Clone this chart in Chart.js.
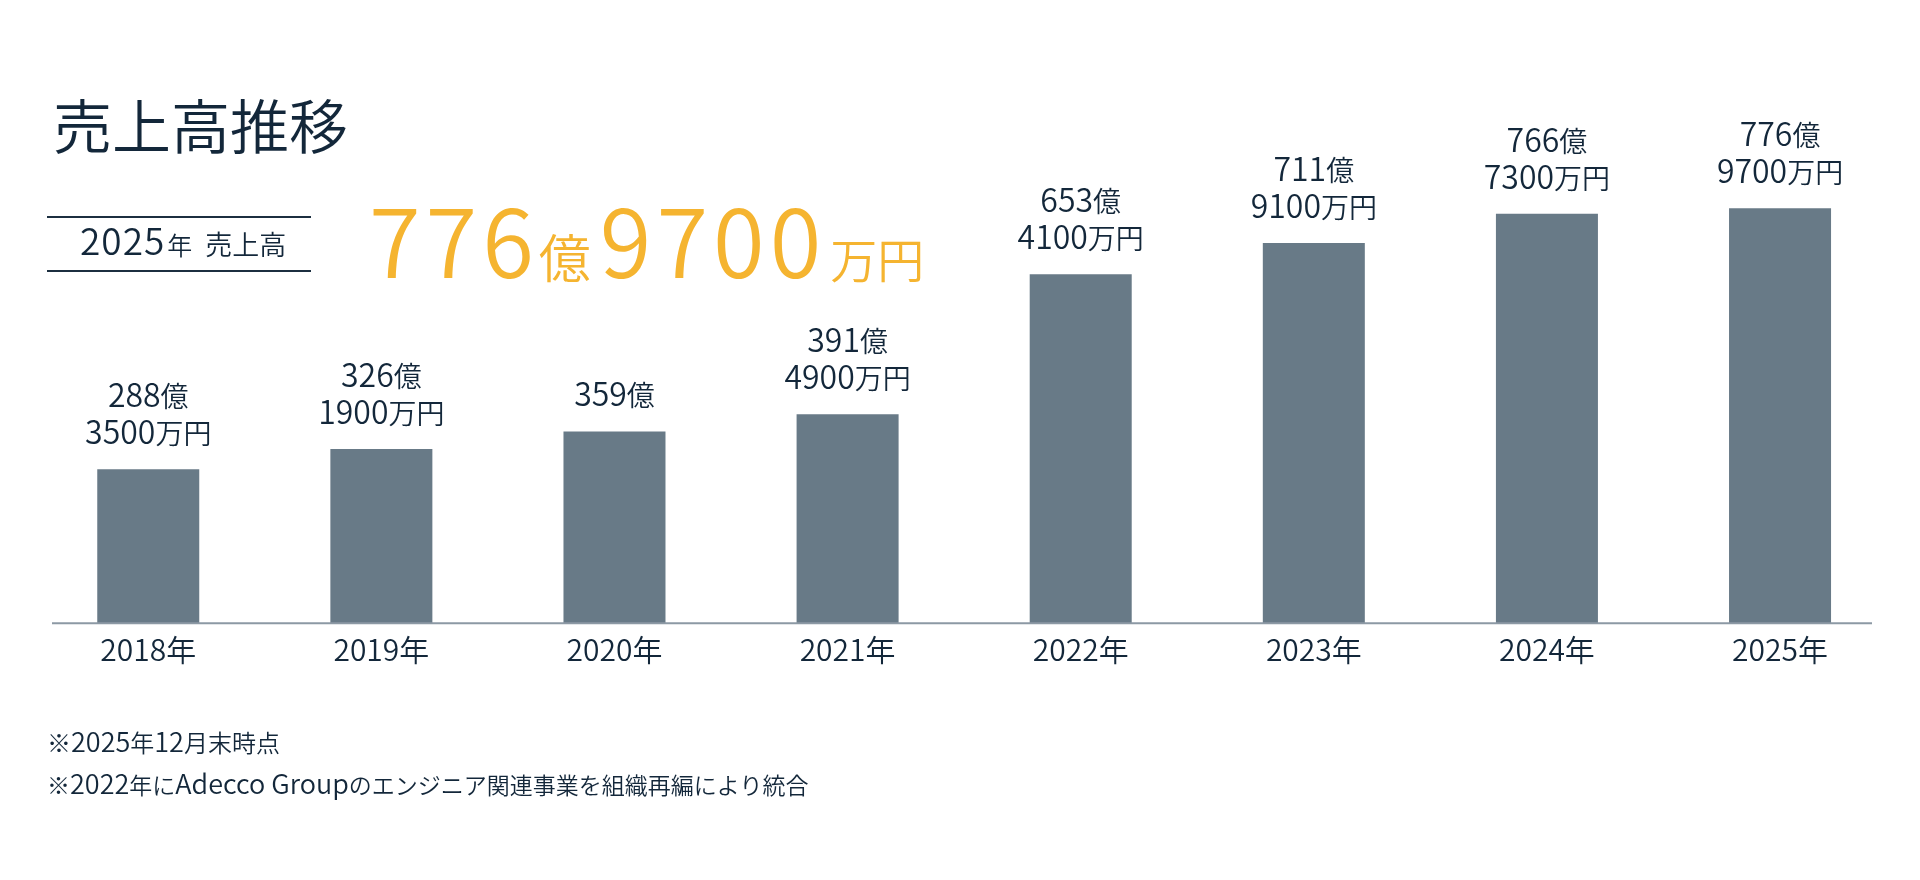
<!DOCTYPE html>
<html lang="ja">
<head>
<meta charset="utf-8">
<script src="https://cdn.jsdelivr.net/npm/chart.js@4.4.1/dist/chart.umd.min.js"></script>
<style>
html,body{margin:0;padding:0;background:#ffffff;}
body{width:1920px;height:880px;position:relative;overflow:hidden;font-family:"Noto Sans CJK JP","Noto Sans",sans-serif;color:#13273a;}
#c{position:absolute;left:0;top:0;width:1920px;height:880px;}
.t{position:absolute;line-height:1;white-space:nowrap;font-weight:350;}
#title{left:53px;top:94px;font-size:59px;}
#box{position:absolute;left:47px;top:216px;width:264px;height:56px;box-sizing:border-box;border-top:2px solid #1c2f40;border-bottom:2px solid #1c2f40;}
#boxtxt{left:80px;top:221px;font-size:37px;letter-spacing:1px;}
#boxtxt span{letter-spacing:0;}
#big{left:369px;top:190px;font-size:94px;letter-spacing:5px;color:#f5b430;}
#big span{letter-spacing:0;}
#note1{left:47px;top:727px;font-size:27px;}
#note2{left:47px;top:769px;font-size:27px;}
.k24{font-size:24px;}
.k23{font-size:23px;}
</style>
</head>
<body>
<canvas id="c" width="1920" height="880"></canvas>
<div class="t" id="title">売上高推移</div>
<div id="box"></div>
<div class="t" id="boxtxt">2025<span style="font-size:25px;margin-left:2px">年</span><span style="font-size:27px;margin-left:13px">売上高</span></div>
<div class="t" id="big">776<span style="font-size:52px;margin-right:9px">億</span>9700<span style="font-size:47px;margin-left:4px">万円</span></div>
<div class="t" id="note1"><span class="k24">※</span>2025<span class="k24">年</span>12<span class="k24">月末時点</span></div>
<div class="t" id="note2"><span class="k23">※</span>2022<span class="k23">年に</span>Adecco Group<span class="k23">のエンジニア関連事業を組織再編により統合</span></div>
<script>
// ---- data ----
const years = ['2018年', '2019年', '2020年', '2021年', '2022年', '2023年', '2024年', '2025年'];
const sales = [288.35, 326.19, 359.00, 391.49, 653.41, 711.91, 766.73, 776.97]; // 億円
const labelOku = ['288億', '326億', '359億', '391億', '653億', '711億', '766億', '776億'];
const labelMan = ['3500万円', '1900万円', '', '4900万円', '4100万円', '9100万円', '7300万円', '9700万円'];

const TEXT = '#13273a';
const FONT = '"Noto Sans CJK JP", "Noto Sans", sans-serif';
const W = 350;

function drawMixed(ctx, str, cx, baseline, latSize, cjkSize) {
  const parts = (str.match(/[0-9A-Za-z]+|[^0-9A-Za-z]+/g) || []).map(p => ({
    p, f: /[0-9A-Za-z]/.test(p[0]) ? latSize : cjkSize
  }));
  let total = 0;
  parts.forEach(o => { ctx.font = `${W} ${o.f}px ${FONT}`; o.w = ctx.measureText(o.p).width; total += o.w; });
  let x = cx - total / 2;
  ctx.textAlign = 'left';
  ctx.textBaseline = 'alphabetic';
  parts.forEach(o => { ctx.font = `${W} ${o.f}px ${FONT}`; ctx.fillText(o.p, x, baseline); x += o.w; });
}

const barLabels = {
  id: 'barLabels',
  afterDatasetsDraw(chart) {
    const ctx = chart.ctx;
    const meta = chart.getDatasetMeta(0);
    ctx.save();
    ctx.fillStyle = TEXT;
    meta.data.forEach((bar, i) => {
      const top = bar.y;
      if (labelMan[i]) {
        drawMixed(ctx, labelOku[i], bar.x, top - 62, 32, 28);
        drawMixed(ctx, labelMan[i], bar.x, top - 25, 32, 28);
      } else {
        drawMixed(ctx, labelOku[i], bar.x, top - 25, 32, 28);
      }
    });
    ctx.restore();
  }
};

const baseLine = {
  id: 'baseLine',
  afterDatasetsDraw(chart) {
    const ctx = chart.ctx;
    const a = chart.chartArea;
    const y0 = chart.scales.y.getPixelForValue(0);
    ctx.save();
    ctx.strokeStyle = '#8c99a4';
    ctx.lineWidth = 2;
    ctx.beginPath();
    ctx.moveTo(a.left + 20.3, y0);
    ctx.lineTo(a.right - 24.6, y0);
    ctx.stroke();
    ctx.restore();
  }
};

new Chart(document.getElementById('c'), {
  type: 'bar',
  data: {
    labels: years,
    datasets: [{
      data: sales,
      backgroundColor: '#687a87',
      borderWidth: 0,
      barPercentage: 0.4376,
      categoryPercentage: 1
    }]
  },
  options: {
    responsive: false,
    animation: false,
    devicePixelRatio: 1,
    layout: { padding: { left: 31.7, right: 23.4, top: 89, bottom: 0 } },
    plugins: { legend: { display: false }, tooltip: { enabled: false } },
    scales: {
      x: {
        type: 'category',
        grid: { display: false, drawTicks: false },
        border: { display: false },
        ticks: {
          color: TEXT,
          font: { family: FONT, size: 30, weight: String(W) },
          padding: 8,
          maxRotation: 0,
          autoSkip: false
        },
        afterFit(s) { s.height = 880 - 623.3; }
      },
      y: { display: false, min: 0, max: 1000 }
    }
  },
  plugins: [barLabels, baseLine]
});
</script>
</body>
</html>
